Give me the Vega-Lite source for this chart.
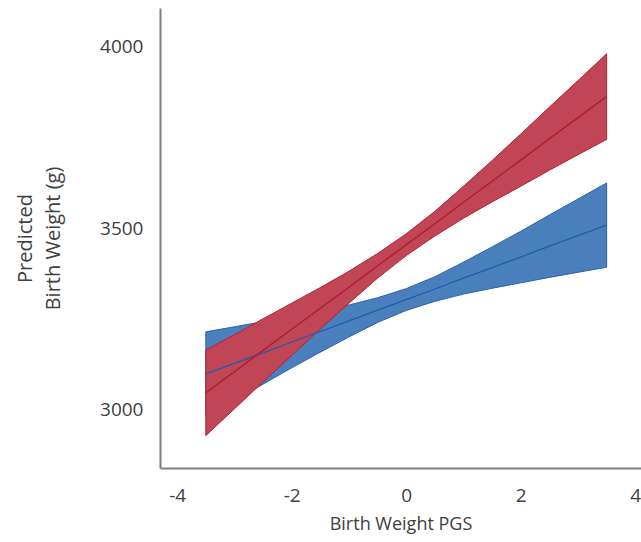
{
  "$schema": "https://vega.github.io/schema/vega-lite/v6.json",
  "width": 481,
  "height": 460,
  "autosize": {"type": "none"},
  "padding": {"left": 160, "top": 8, "right": 0, "bottom": 74},
  "background": "white",
  "config": {
    "view": {"stroke": null},
    "font": "Open Sans",
    "axis": {
      "grid": false,
      "ticks": false,
      "domainColor": "#7f7f7f",
      "domainWidth": 2,
      "labelColor": "#404040",
      "titleColor": "#404040",
      "labelFont": "Open Sans",
      "titleFont": "Open Sans",
      "labelFontSize": 19,
      "titleFontSize": 18,
      "titleFontWeight": "normal"
    }
  },
  "data": {
    "values": [
      {"g": "blue", "x": -3.5, "lo": 2983, "hi": 3215, "m": 3099},
      {"g": "blue", "x": -3.0, "lo": 3027, "hi": 3229, "m": 3128},
      {"g": "blue", "x": -2.5, "lo": 3071, "hi": 3243, "m": 3157},
      {"g": "blue", "x": -2.0, "lo": 3116, "hi": 3258, "m": 3187},
      {"g": "blue", "x": -1.5, "lo": 3159, "hi": 3273, "m": 3216},
      {"g": "blue", "x": -1.0, "lo": 3201, "hi": 3289, "m": 3245},
      {"g": "blue", "x": -0.5, "lo": 3241, "hi": 3309, "m": 3275},
      {"g": "blue", "x": 0.0, "lo": 3274, "hi": 3334, "m": 3304},
      {"g": "blue", "x": 0.5, "lo": 3299, "hi": 3367, "m": 3333},
      {"g": "blue", "x": 1.0, "lo": 3319, "hi": 3407, "m": 3363},
      {"g": "blue", "x": 1.5, "lo": 3335, "hi": 3449, "m": 3392},
      {"g": "blue", "x": 2.0, "lo": 3350, "hi": 3492, "m": 3421},
      {"g": "blue", "x": 2.5, "lo": 3365, "hi": 3537, "m": 3451},
      {"g": "blue", "x": 3.0, "lo": 3379, "hi": 3581, "m": 3480},
      {"g": "blue", "x": 3.5, "lo": 3393, "hi": 3625, "m": 3509},
      {"g": "red", "x": -3.5, "lo": 2929, "hi": 3165, "m": 3047},
      {"g": "red", "x": -3.0, "lo": 3003, "hi": 3207, "m": 3105},
      {"g": "red", "x": -2.5, "lo": 3077, "hi": 3251, "m": 3164},
      {"g": "red", "x": -2.0, "lo": 3150, "hi": 3294, "m": 3222},
      {"g": "red", "x": -1.5, "lo": 3223, "hi": 3337, "m": 3280},
      {"g": "red", "x": -1.0, "lo": 3294, "hi": 3382, "m": 3338},
      {"g": "red", "x": -0.5, "lo": 3363, "hi": 3431, "m": 3397},
      {"g": "red", "x": 0.0, "lo": 3425, "hi": 3485, "m": 3455},
      {"g": "red", "x": 0.5, "lo": 3479, "hi": 3547, "m": 3513},
      {"g": "red", "x": 1.0, "lo": 3528, "hi": 3616, "m": 3572},
      {"g": "red", "x": 1.5, "lo": 3573, "hi": 3687, "m": 3630},
      {"g": "red", "x": 2.0, "lo": 3616, "hi": 3760, "m": 3688},
      {"g": "red", "x": 2.5, "lo": 3660, "hi": 3834, "m": 3747},
      {"g": "red", "x": 3.0, "lo": 3703, "hi": 3907, "m": 3805},
      {"g": "red", "x": 3.5, "lo": 3745, "hi": 3981, "m": 3863}
    ]
  },
  "encoding": {
    "x": {
      "field": "x",
      "type": "quantitative",
      "scale": {"domain": [-4.3, 4.1], "nice": false, "zero": false},
      "axis": {"values": [-4, -2, 0, 2, 4], "labelExpr": "'' + datum.value", "title": "Birth Weight PGS", "labelPadding": 18, "titlePadding": 10, "labelFlush": false}
    }
  },
  "layer": [
    {
      "transform": [{"filter": "datum.g === 'blue'"}],
      "mark": {"type": "area", "color": "#4a7fbd", "stroke": "#2a63a8", "strokeWidth": 1, "opacity": 1},
      "encoding": {
        "y": {
          "field": "lo", "type": "quantitative",
          "scale": {"domain": [2840, 4107], "nice": false, "zero": false},
          "axis": {"values": [3000, 3500, 4000], "labelExpr": "'' + datum.value", "title": ["Predicted", "Birth Weight (g)"], "titleFontSize": 20, "titleLineHeight": 28, "labelPadding": 17, "titlePadding": 36, "labelFlush": false}
        },
        "y2": {"field": "hi"}
      }
    },
    {
      "transform": [{"filter": "datum.g === 'red'"}],
      "mark": {"type": "area", "color": "#c04555", "stroke": "#b32234", "strokeWidth": 1, "opacity": 1},
      "encoding": {
        "y": {"field": "lo", "type": "quantitative"},
        "y2": {"field": "hi"}
      }
    },
    {
      "transform": [{"filter": "datum.g === 'blue'"}],
      "mark": {"type": "line", "color": "#1f5fae", "strokeWidth": 1.3},
      "encoding": {"y": {"field": "m", "type": "quantitative"}}
    },
    {
      "transform": [{"filter": "datum.g === 'red'"}],
      "mark": {"type": "line", "color": "#b01c2e", "strokeWidth": 1.3},
      "encoding": {"y": {"field": "m", "type": "quantitative"}}
    }
  ]
}
